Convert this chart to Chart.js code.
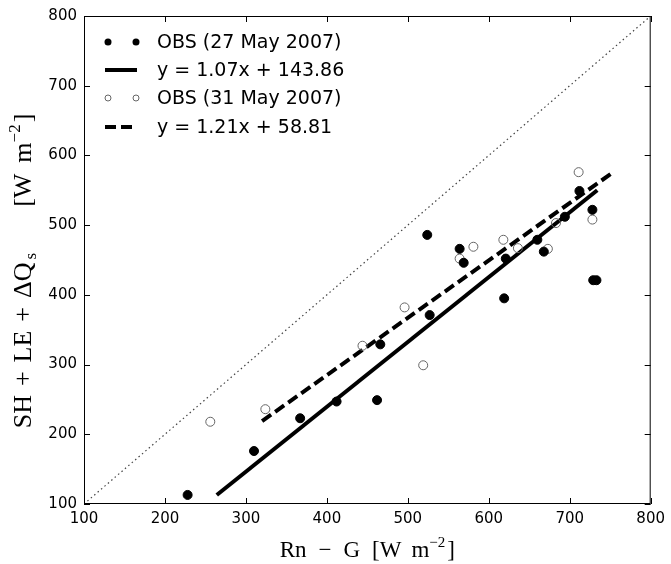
<!DOCTYPE html>
<html>
<head>
<meta charset="utf-8">
<script src="https://cdn.jsdelivr.net/npm/chart.js@4.4.1/dist/chart.umd.min.js"></script>
<style>
  html, body { margin: 0; padding: 0; background: #fff; }
  #wrap { width: 671px; height: 564px; }
</style>
</head>
<body>
<div id="wrap"><canvas id="chartObs" width="671" height="564"></canvas></div>
<script>
// === Dados ===
const obs27X = [228, 310, 367, 412, 462, 466, 527, 524, 564, 569, 619, 621, 660, 668, 694, 712, 728, 729, 733];
const obs27Y = [113, 176, 223, 247, 249, 329, 371, 486, 466, 446, 395, 452, 479, 462, 512, 549, 522, 421, 421];
const obs31X = [256, 324, 444, 496, 519, 564, 581, 618, 636, 673, 683, 711, 728];
const obs31Y = [218, 236, 327, 382, 299, 452, 469, 479, 467, 466, 503, 576, 508];
const fit27X = [264, 734];
const fit27Y = [113, 550];
const fit31X = [320, 755];
const fit31Y = [219, 577];
const oneToOne = [100, 800];
const axisTicks = [100, 200, 300, 400, 500, 600, 700, 800];

const legendItems = [
  { label: "OBS (27 May 2007)", kind: "filled" },
  { label: "y = 1.07x + 143.86", kind: "solid" },
  { label: "OBS (31 May 2007)", kind: "open" },
  { label: "y = 1.21x + 58.81", kind: "dashed" }
];

function pares(xs, ys) {
  return xs.map((x, i) => ({ x: x, y: ys[i] }));
}

// texto com sub/sobrescrito, segmento por segmento (gap = espaço antes)
function textoRico(ctx, segs, cx, cy) {
  let total = 0;
  segs.forEach(s => {
    ctx.font = s.size + "px 'Liberation Serif', serif";
    s.w = ctx.measureText(s.t).width;
    total += s.w + (s.gap || 0);
  });
  let x = cx - total / 2;
  ctx.textAlign = "left";
  ctx.textBaseline = "alphabetic";
  segs.forEach(s => {
    x += s.gap || 0;
    ctx.font = s.size + "px 'Liberation Serif', serif";
    ctx.fillText(s.t, x, cy + (s.dy || 0));
    x += s.w;
  });
}

const decoracao = {
  id: "decoracao",
  afterDraw(chart) {
    const ctx = chart.ctx;
    const a = chart.chartArea;
    const sx = chart.scales.x, sy = chart.scales.y;
    ctx.save();

    // moldura + ticks para dentro
    ctx.strokeStyle = "#000";
    ctx.lineWidth = 1;
    ctx.strokeRect(a.left + 0.5, a.top + 0.5, a.right - a.left - 1, a.bottom - a.top - 1);
    ctx.beginPath();
    axisTicks.forEach(v => {
      const px = Math.round(sx.getPixelForValue(v)) + 0.5;
      ctx.moveTo(px, a.bottom); ctx.lineTo(px, a.bottom - 6);
      ctx.moveTo(px, a.top); ctx.lineTo(px, a.top + 6);
      const py = Math.round(sy.getPixelForValue(v)) + 0.5;
      ctx.moveTo(a.left, py); ctx.lineTo(a.left + 6, py);
      ctx.moveTo(a.right, py); ctx.lineTo(a.right - 6, py);
    });
    ctx.stroke();

    // legenda sem moldura
    const rowY = [42, 70, 98, 127];
    legendItems.forEach((it, i) => {
      const y = rowY[i];
      ctx.fillStyle = "#000";
      ctx.strokeStyle = "#000";
      if (it.kind === "filled") {
        [108, 136].forEach(mx => {
          ctx.beginPath(); ctx.arc(mx, y, 3.5, 0, Math.PI * 2); ctx.fill();
        });
      } else if (it.kind === "open") {
        ctx.strokeStyle = "#666";
        ctx.lineWidth = 1;
        [108, 136].forEach(mx => {
          ctx.beginPath(); ctx.arc(mx, y, 3, 0, Math.PI * 2); ctx.stroke();
        });
      } else {
        ctx.lineWidth = 4;
        ctx.setLineDash(it.kind === "dashed" ? [11, 5] : []);
        ctx.beginPath(); ctx.moveTo(105, y); ctx.lineTo(137, y); ctx.stroke();
        ctx.setLineDash([]);
      }
      ctx.fillStyle = "#000";
      ctx.textAlign = "left";
      ctx.textBaseline = "middle";
      ctx.font = "19px 'DejaVu Sans', sans-serif";
      ctx.fillText(it.label, 157, y + 1);
    });

    // títulos dos eixos
    ctx.fillStyle = "#000";
    const cx = (a.left + a.right) / 2;
    textoRico(ctx, [
      { t: "Rn", size: 23 },
      { t: "\u2212", size: 23, gap: 12 },
      { t: "G", size: 23, gap: 12 },
      { t: "[W", size: 23, gap: 12 },
      { t: "m", size: 23, gap: 10 },
      { t: "\u22122", size: 15, dy: -10 },
      { t: "]", size: 23, gap: 2 }
    ], cx, 557);

    const cy = (a.top + a.bottom) / 2 + 11;
    ctx.translate(31, cy);
    ctx.rotate(-Math.PI / 2);
    textoRico(ctx, [
      { t: "SH", size: 26 },
      { t: "+", size: 26, gap: 9 },
      { t: "LE", size: 26, gap: 9 },
      { t: "+", size: 26, gap: 9 },
      { t: "\u0394Q", size: 26, gap: 9 },
      { t: "s", size: 17, dy: 5, gap: 3 },
      { t: "[W", size: 26, gap: 46 },
      { t: "m", size: 26, gap: 11 },
      { t: "\u22122", size: 17, dy: -11 },
      { t: "]", size: 26, gap: 2 }
    ], 0, 0);
    ctx.restore();
  }
};

const ctx = document.getElementById("chartObs").getContext("2d");
const chartObs = new Chart(ctx, {
  type: "scatter",
  data: {
    datasets: [
      {
        label: "OBS (27 May 2007)",
        data: pares(obs27X, obs27Y),
        backgroundColor: "#000",
        borderColor: "#000",
        pointRadius: 4.5,
        pointHoverRadius: 4.5,
        order: 1
      },
      {
        label: "OBS (31 May 2007)",
        data: pares(obs31X, obs31Y),
        backgroundColor: "rgba(0,0,0,0)",
        borderColor: "#666",
        borderWidth: 1,
        pointRadius: 4.5,
        order: 2
      },
      {
        label: "y = 1.07x + 143.86",
        data: pares(fit27X, fit27Y),
        showLine: true,
        borderColor: "#000",
        borderWidth: 4,
        pointRadius: 0,
        order: 3
      },
      {
        label: "y = 1.21x + 58.81",
        data: pares(fit31X, fit31Y),
        showLine: true,
        borderColor: "#000",
        borderWidth: 4,
        borderDash: [11, 5],
        pointRadius: 0,
        order: 4
      },
      {
        label: "1:1",
        data: pares(oneToOne, oneToOne),
        showLine: true,
        borderColor: "#444",
        borderWidth: 1.2,
        borderDash: [1.5, 3],
        pointRadius: 0,
        order: 5
      }
    ]
  },
  options: {
    responsive: false,
    animation: false,
    layout: { padding: { top: 15, right: 15, left: 0, bottom: 0 } },
    plugins: { legend: { display: false }, tooltip: { enabled: false } },
    scales: {
      x: {
        type: "linear",
        min: 100, max: 800,
        afterFit: s => { s.height = 60; },
        grid: { display: false, drawTicks: false },
        border: { display: false },
        ticks: {
          stepSize: 100, padding: 6, color: "#000",
          font: { family: "'DejaVu Sans', sans-serif", size: 15 }
        }
      },
      y: {
        type: "linear",
        min: 100, max: 800,
        afterFit: s => { s.width = 84; },
        grid: { display: false, drawTicks: false },
        border: { display: false },
        ticks: {
          stepSize: 100, padding: 7, color: "#000",
          font: { family: "'DejaVu Sans', sans-serif", size: 15 }
        }
      }
    }
  },
  plugins: [decoracao]
});
</script>
</body>
</html>
